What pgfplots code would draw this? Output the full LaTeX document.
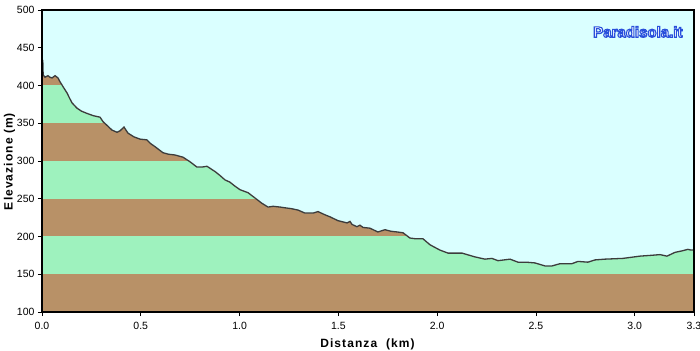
\documentclass[border=0pt]{standalone}
\usepackage{pgfplots}
\pgfplotsset{compat=1.18}
\usepackage{fontspec}
\setmainfont{Liberation Sans}
\newfontfamily\labelfont[LetterSpace=9]{Liberation Sans}
\definecolor{bgcyan}{RGB}{218,255,255}
\definecolor{bandbrown}{RGB}{184,145,103}
\definecolor{bandgreen}{RGB}{158,242,190}
\definecolor{profline}{RGB}{60,60,60}
\pgfplotstableread{
x y
0.000 433
0.004 433
0.006 414
0.015 411
0.030 413
0.040 411
0.051 410
0.066 413
0.081 410
0.091 405
0.110 397
0.127 390
0.140 383
0.152 377
0.177 370
0.200 366
0.228 363
0.260 360
0.294 358
0.309 352
0.330 347
0.354 341
0.380 338
0.395 340
0.415 345
0.435 337
0.465 332
0.496 329
0.531 328
0.550 323
0.572 319
0.612 311
0.640 309
0.673 308
0.714 305
0.749 299
0.784 292
0.810 292
0.835 293
0.876 286
0.900 281
0.926 275
0.951 272
0.975 267
1.002 262
1.043 258
1.078 251
1.113 244
1.144 239
1.170 240
1.205 239
1.230 238
1.260 237
1.296 235
1.331 231
1.372 231
1.397 233
1.430 229
1.458 226
1.498 221
1.544 218
1.559 220
1.569 216
1.594 213
1.609 215
1.625 212
1.660 211
1.700 206
1.736 209
1.765 207
1.797 206
1.827 205
1.862 198
1.890 197
1.928 197
1.964 189
2.014 182
2.055 178
2.126 178
2.191 173
2.242 170
2.277 171
2.308 168
2.369 170
2.409 166
2.450 166
2.495 165
2.546 161
2.581 161
2.622 164
2.682 164
2.713 167
2.763 166
2.799 169
2.849 170
2.940 171
3.027 174
3.080 175
3.128 176
3.163 174
3.204 179
3.240 181
3.269 183
3.285 182
3.300 182
}\profile
\begin{document}
\begin{tikzpicture}
\begin{axis}[
  scale only axis,
  width=652bp, height=302bp,
  xmin=0, xmax=3.3, ymin=100, ymax=500,
  axis background/.style={fill=bgcyan},
  axis line style={black, line width=1.4bp},
  xtick={0,0.5,1.0,1.5,2.0,2.5,3.0,3.3},
  ytick={100,150,200,250,300,350,400,450,500},
  xticklabel style={yshift=-2.5bp, /pgf/number format/.cd, fixed, fixed zerofill, precision=1},
  yticklabel style={/pgf/number format/.cd, fixed, precision=0},
  /pgf/number format/assume math mode=true,
  tick align=outside, tick pos=left,
  major tick length=4bp,
  tick style={black, line width=0.8bp},
  ticklabel style={font=\fontsize{10.5bp}{12bp}\selectfont, text=black},
  xlabel={\textbf{Distanza\ \ (km)}},
  ylabel={\textbf{Elevazione (m)}},
  label style={font=\labelfont\fontsize{12bp}{13bp}\selectfont},
  xlabel style={yshift=-3bp},
  ylabel style={yshift=-5bp},
  clip=true,
  axis on top,
]
\addplot[fill=bandbrown, draw=none] coordinates {(0,100) (3.3,100) (3.3,150) (0,150)} -- cycle;
\addplot[fill=bandgreen, draw=none] coordinates {(0,150) (3.3,150) (3.3,200) (0,200)} -- cycle;
\addplot[fill=bandbrown, draw=none] coordinates {(0,200) (3.3,200) (3.3,250) (0,250)} -- cycle;
\addplot[fill=bandgreen, draw=none] coordinates {(0,250) (3.3,250) (3.3,300) (0,300)} -- cycle;
\addplot[fill=bandbrown, draw=none] coordinates {(0,300) (3.3,300) (3.3,350) (0,350)} -- cycle;
\addplot[fill=bandgreen, draw=none] coordinates {(0,350) (3.3,350) (3.3,400) (0,400)} -- cycle;
\addplot[fill=bandbrown, draw=none] coordinates {(0,400) (3.3,400) (3.3,450) (0,450)} -- cycle;
\addplot[fill=bgcyan, draw=none] table[x=x,y=y] {\profile} -- (axis cs:3.3,501) -- (axis cs:0,501) -- cycle;
\addplot[profline, line width=1.3bp] table[x=x,y=y] {\profile};
\node[text=white, font=\fontsize{15bp}{16bp}\selectfont\bfseries] at (axis cs:3.016,471) {\special{pdf:literal direct 2 Tr 1.1 w 0.16 0.31 0.86 RG}Paradisola.it\special{pdf:literal direct 0 Tr}};
\end{axis}
\pgfresetboundingbox
\path ([shift={(-42bp,-39bp)}]current axis.south west) rectangle ([shift={(6bp,10bp)}]current axis.north east);
\end{tikzpicture}
\end{document}
